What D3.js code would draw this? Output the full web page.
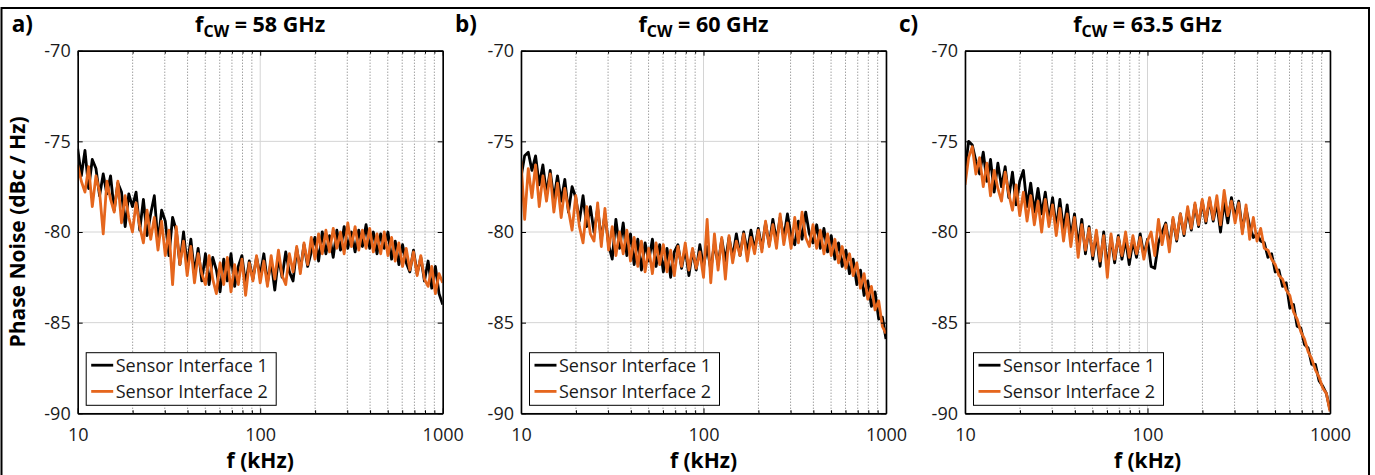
<!DOCTYPE html>
<html><head><meta charset="utf-8">
<script src="https://cdn.jsdelivr.net/npm/d3@7"></script>
<style>body{margin:0;background:#fff}svg{display:block}</style>
</head><body>
<script>
const freq = [10,10.47,10.96,11.48,12.02,12.59,13.18,13.8,14.45,15.14,15.85,16.6,17.38,18.2,19.05,19.95,20.89,21.88,22.91,23.99,25.12,26.3,27.54,28.84,30.2,31.62,33.11,34.67,36.31,38.02,39.81,41.69,43.65,45.71,47.86,50.12,52.48,54.95,57.54,60.26,63.1,66.07,69.18,72.44,75.86,79.43,83.18,87.1,91.2,95.5,100,104.7,109.6,114.8,120.2,125.9,131.8,138,144.5,151.4,158.5,166,173.8,182,190.5,199.5,208.9,218.8,229.1,239.9,251.2,263,275.4,288.4,302,316.2,331.1,346.7,363.1,380.2,398.1,416.9,436.5,457.1,478.6,501.2,524.8,549.5,575.4,602.6,631,660.7,691.8,724.4,758.6,794.3,831.8,871,912,955,1000];

const seriesNames = ["Sensor Interface 1", "Sensor Interface 2"];
const panelLabels = ["a)", "b)", "c)"];
const panelFreqs = ["58 GHz", "60 GHz", "63.5 GHz"];
const xTicks = [10, 100, 1000];
const xMinor = [20,30,40,50,60,70,80,90,200,300,400,500,600,700,800,900];
const yTicks = [-90, -85, -80, -75, -70];

const a1 = [-75.4,-76.9,-75.5,-77.6,-76.0,-76.5,-78.0,-76.8,-77.9,-76.9,-78.8,-77.3,-77.8,-79.7,-77.9,-78.6,-77.8,-79.9,-78.2,-80.2,-79.0,-78.0,-80.6,-78.8,-79.4,-81.3,-79.2,-79.9,-81.8,-80.0,-81.9,-80.4,-82.3,-80.9,-82.7,-81.2,-82.9,-81.4,-82.1,-83.3,-81.5,-82.7,-81.2,-83.0,-81.9,-81.3,-82.9,-81.6,-82.6,-81.4,-82.4,-81.2,-82.8,-81.6,-83.2,-81.4,-82.5,-81.1,-82.2,-82.7,-80.9,-82.1,-80.7,-81.9,-81.1,-80.3,-81.6,-80.0,-81.2,-80.2,-81.4,-79.9,-81.0,-79.7,-80.9,-80.0,-81.1,-79.9,-80.8,-79.6,-80.9,-80.0,-81.2,-80.1,-80.9,-80.0,-81.5,-80.5,-81.8,-80.7,-81.7,-82.2,-81.0,-82.3,-81.4,-82.7,-81.6,-83.1,-81.9,-83.4,-84.0];
const a2 = [-76.3,-77.2,-77.8,-76.4,-78.6,-76.9,-77.8,-80.1,-77.2,-78.2,-78.9,-77.2,-79.5,-78.0,-79.2,-80.0,-78.4,-79.7,-80.6,-78.8,-80.4,-79.2,-81.0,-79.4,-81.3,-79.9,-82.9,-79.7,-81.8,-80.5,-82.4,-80.8,-82.8,-81.2,-82.3,-82.9,-81.3,-82.6,-83.4,-81.7,-82.9,-81.4,-83.3,-81.8,-82.9,-81.5,-83.5,-81.7,-82.7,-81.3,-82.8,-81.6,-83.0,-81.3,-82.6,-81.0,-82.4,-82.9,-81.2,-82.2,-80.8,-82.3,-80.6,-81.8,-80.3,-81.5,-80.1,-81.2,-79.9,-81.1,-79.8,-80.9,-80.0,-81.2,-79.5,-80.8,-79.7,-81.0,-79.9,-80.9,-79.8,-81.1,-80.1,-81.2,-80.0,-81.3,-80.3,-81.6,-80.6,-81.9,-80.9,-82.1,-81.1,-82.4,-81.3,-82.6,-83.0,-81.9,-83.4,-82.3,-82.8];
const b1 = [-77.0,-75.8,-75.6,-76.6,-75.8,-77.4,-76.3,-77.9,-76.6,-78.2,-76.9,-78.3,-77.1,-78.9,-77.5,-78.1,-79.4,-78.0,-79.7,-78.6,-80.0,-78.7,-80.4,-79.0,-80.7,-81.5,-79.3,-80.9,-79.5,-81.3,-80.1,-81.8,-80.4,-82.1,-80.6,-81.6,-80.4,-81.9,-80.7,-82.2,-80.9,-82.5,-81.1,-80.7,-82.0,-80.9,-82.4,-81.0,-82.1,-80.7,-81.9,-80.8,-82.1,-80.6,-81.8,-80.4,-81.6,-80.3,-81.4,-80.1,-81.3,-80.0,-81.1,-79.9,-81.0,-79.8,-80.9,-79.5,-80.7,-79.3,-80.5,-79.2,-80.3,-79.0,-80.2,-80.7,-79.4,-80.4,-78.9,-80.1,-80.6,-79.6,-80.9,-79.8,-81.1,-80.2,-81.5,-80.6,-81.9,-81.0,-82.3,-81.5,-82.9,-82.1,-83.5,-82.7,-84.1,-83.3,-84.8,-84.7,-85.9];
const b2 = [-76.1,-79.3,-76.5,-78.1,-76.3,-78.6,-76.9,-78.3,-76.8,-78.9,-77.3,-79.2,-77.6,-78.8,-79.9,-78.0,-79.7,-80.6,-78.6,-80.1,-80.5,-78.4,-80.8,-78.7,-81.0,-79.7,-81.3,-80.0,-81.2,-79.9,-81.6,-80.3,-81.9,-80.5,-82.2,-80.9,-82.3,-80.6,-81.8,-80.7,-82.2,-81.0,-82.4,-80.8,-81.9,-80.6,-82.1,-80.9,-82.0,-81.1,-82.5,-79.3,-82.8,-80.1,-82.1,-80.3,-82.6,-80.2,-81.7,-80.5,-81.3,-80.1,-81.6,-80.3,-81.2,-79.9,-81.1,-79.4,-80.8,-79.6,-80.9,-79.0,-80.7,-79.5,-80.9,-79.2,-80.6,-78.9,-80.3,-80.8,-79.6,-80.9,-79.9,-81.2,-80.1,-81.3,-80.4,-81.7,-80.8,-82.0,-81.2,-82.4,-81.7,-83.1,-82.3,-83.7,-83.0,-84.3,-83.8,-85.2,-85.6];
const c1 = [-76.6,-75.0,-75.2,-76.1,-76.8,-75.6,-77.2,-76.0,-77.8,-76.2,-77.5,-76.4,-78.1,-76.7,-78.5,-77.2,-76.6,-78.6,-77.3,-78.9,-77.6,-79.0,-77.8,-79.4,-78.1,-79.8,-78.2,-79.9,-78.5,-80.3,-79.0,-80.8,-79.3,-81.2,-79.7,-81.5,-80.1,-81.9,-80.0,-82.0,-80.3,-81.7,-80.2,-81.5,-80.4,-81.8,-80.5,-81.4,-80.1,-81.3,-80.4,-81.9,-82.0,-80.6,-80.0,-79.5,-80.8,-79.3,-80.5,-79.0,-80.2,-78.8,-79.9,-78.5,-79.7,-78.3,-79.5,-78.2,-79.4,-78.4,-80.0,-78.3,-79.5,-78.1,-79.2,-78.3,-79.9,-78.7,-79.7,-80.3,-80.1,-80.5,-80.6,-81.4,-81.2,-82.2,-82.1,-83.0,-82.8,-84.2,-84.0,-85.2,-85.3,-86.2,-86.4,-87.3,-87.3,-88.2,-88.5,-88.9,-89.8];
const c2 = [-77.4,-75.9,-75.3,-76.8,-75.9,-77.5,-76.2,-78.0,-76.6,-77.6,-78.3,-76.7,-77.9,-78.8,-77.4,-79.1,-77.8,-79.4,-78.0,-79.6,-78.3,-80.0,-78.2,-79.7,-78.5,-80.2,-78.7,-80.5,-79.0,-80.8,-79.2,-81.4,-79.6,-81.0,-79.8,-81.3,-79.9,-81.6,-80.2,-82.5,-80.1,-81.5,-80.3,-81.3,-80.0,-81.4,-80.2,-81.2,-80.3,-81.5,-80.5,-80.0,-81.3,-79.3,-80.7,-79.6,-81.1,-79.2,-80.4,-79.0,-80.1,-78.6,-79.8,-78.4,-79.6,-78.2,-79.4,-78.1,-79.3,-78.0,-79.6,-77.7,-79.1,-78.3,-79.5,-78.4,-80.1,-78.5,-80.4,-79.2,-80.5,-79.8,-80.9,-81.0,-81.5,-81.8,-82.4,-82.6,-83.2,-83.5,-84.4,-84.8,-85.5,-85.9,-86.6,-87.0,-87.6,-88.0,-88.6,-88.9,-89.9];

const panels = [[a1, a2], [b1, b2], [c1, c2]];
const colors = ["#000000", "#e5661d"];

const W = 1375, H = 475;
const svg = d3.select("body").append("svg").attr("width", W).attr("height", H)
  .style("font-family", "'Open Sans', sans-serif");

svg.append("rect").attr("x", 1.5).attr("y", 8).attr("width", 1367.5).attr("height", 480)
  .attr("fill", "none").attr("stroke", "#000").attr("stroke-width", 2);

const lefts = [77.7, 521, 965];
const pw = 365, pTop = 50.7, pBot = 413.3;

svg.append("text").attr("transform", `translate(25,${(pTop + pBot) / 2}) rotate(-90)`)
  .attr("text-anchor", "middle").attr("font-weight", "bold").attr("font-size", 21)
  .text("Phase Noise (dBc / Hz)");

const defs = svg.append("defs");

panels.forEach((ser, p) => {
  const L = lefts[p];
  const x = d3.scaleLog().domain([10, 1000]).range([L, L + pw]);
  const y = d3.scaleLinear().domain([-90, -70]).range([pBot, pTop]);
  const g = svg.append("g");

  g.selectAll(".minor").data(xMinor).join("line")
    .attr("x1", d => x(d)).attr("x2", d => x(d)).attr("y1", pTop).attr("y2", pBot)
    .attr("stroke", "#555").attr("stroke-width", 0.8).attr("stroke-dasharray", "1,2");
  g.selectAll(".majx").data(xTicks).join("line")
    .attr("x1", d => x(d)).attr("x2", d => x(d)).attr("y1", pTop).attr("y2", pBot)
    .attr("stroke", "#d4d4d4").attr("stroke-width", 1);
  g.selectAll(".majy").data(yTicks).join("line")
    .attr("x1", L).attr("x2", L + pw).attr("y1", d => y(d)).attr("y2", d => y(d))
    .attr("stroke", "#d4d4d4").attr("stroke-width", 1);

  const cid = "clip" + p;
  defs.append("clipPath").attr("id", cid).append("rect")
    .attr("x", L).attr("y", pTop).attr("width", pw).attr("height", pBot - pTop);
  const line = d3.line().x((d, i) => x(freq[i])).y(d => y(d));
  ser.forEach((vals, s) => {
    g.append("path").datum(vals).attr("d", line).attr("fill", "none")
      .attr("stroke", colors[s]).attr("stroke-width", 2.8)
      .attr("stroke-linejoin", "round").attr("clip-path", `url(#${cid})`);
  });

  const axB = g.append("g").attr("transform", `translate(0,${pBot})`)
    .call(d3.axisBottom(x).tickValues(xTicks).tickFormat(d => String(d)).tickSizeInner(-5).tickSizeOuter(0).tickPadding(15));
  g.append("g").attr("transform", `translate(0,${pBot})`)
    .call(d3.axisBottom(x).tickValues(xMinor).tickFormat("").tickSizeInner(-3).tickSizeOuter(0));
  g.append("g").attr("transform", `translate(0,${pTop})`)
    .call(d3.axisTop(x).tickValues(xTicks).tickFormat("").tickSizeInner(-5).tickSizeOuter(0));
  g.append("g").attr("transform", `translate(0,${pTop})`)
    .call(d3.axisTop(x).tickValues(xMinor).tickFormat("").tickSizeInner(-3).tickSizeOuter(0));
  g.append("g").attr("transform", `translate(${L},0)`)
    .call(d3.axisLeft(y).tickValues(yTicks).tickFormat(d => String(d)).tickSizeInner(-5).tickSizeOuter(0).tickPadding(7));
  g.append("g").attr("transform", `translate(${L + pw},0)`)
    .call(d3.axisRight(y).tickValues(yTicks).tickFormat("").tickSizeInner(-5).tickSizeOuter(0));
  g.selectAll(".domain").attr("stroke", "#000").attr("stroke-width", 1.6);
  g.selectAll(".tick line").attr("stroke", "#000").attr("stroke-width", 1);
  g.selectAll(".tick text").attr("font-family", "'Open Sans', sans-serif")
    .attr("font-size", 18).attr("fill", "#1a1a1a");
  axB.selectAll(".tick text").attr("dy", "0.71em");

  g.append("text").attr("x", L + pw / 2).attr("y", 468).attr("text-anchor", "middle")
    .attr("font-weight", "bold").attr("font-size", 21).text("f (kHz)");

  const t = g.append("text").attr("x", L + pw / 2).attr("y", 32).attr("text-anchor", "middle")
    .attr("font-weight", "bold").attr("font-size", 21.5);
  t.append("tspan").text("f");
  t.append("tspan").attr("dy", 5).attr("font-size", 16).text("CW");
  t.append("tspan").attr("dy", -5).text(" = " + panelFreqs[p]);

  g.append("text").attr("x", L - 66).attr("y", 32).attr("font-weight", "bold")
    .attr("font-size", 22.5).text(panelLabels[p]);

  const lg = g.append("g").attr("transform", `translate(${L + 8.5},352.7)`);
  lg.append("rect").attr("width", 190).attr("height", 52.6).attr("fill", "#fff")
    .attr("stroke", "#000").attr("stroke-width", 1);
  seriesNames.forEach((n, s) => {
    const yy = 12.5 + s * 26.2;
    lg.append("line").attr("x1", 5).attr("x2", 27).attr("y1", yy).attr("y2", yy)
      .attr("stroke", colors[s]).attr("stroke-width", 2.8);
    lg.append("text").attr("x", 29.5).attr("y", yy + 6.5).attr("font-size", 18)
      .attr("fill", "#1a1a1a").text(n);
  });
});
</script>
</body></html>
